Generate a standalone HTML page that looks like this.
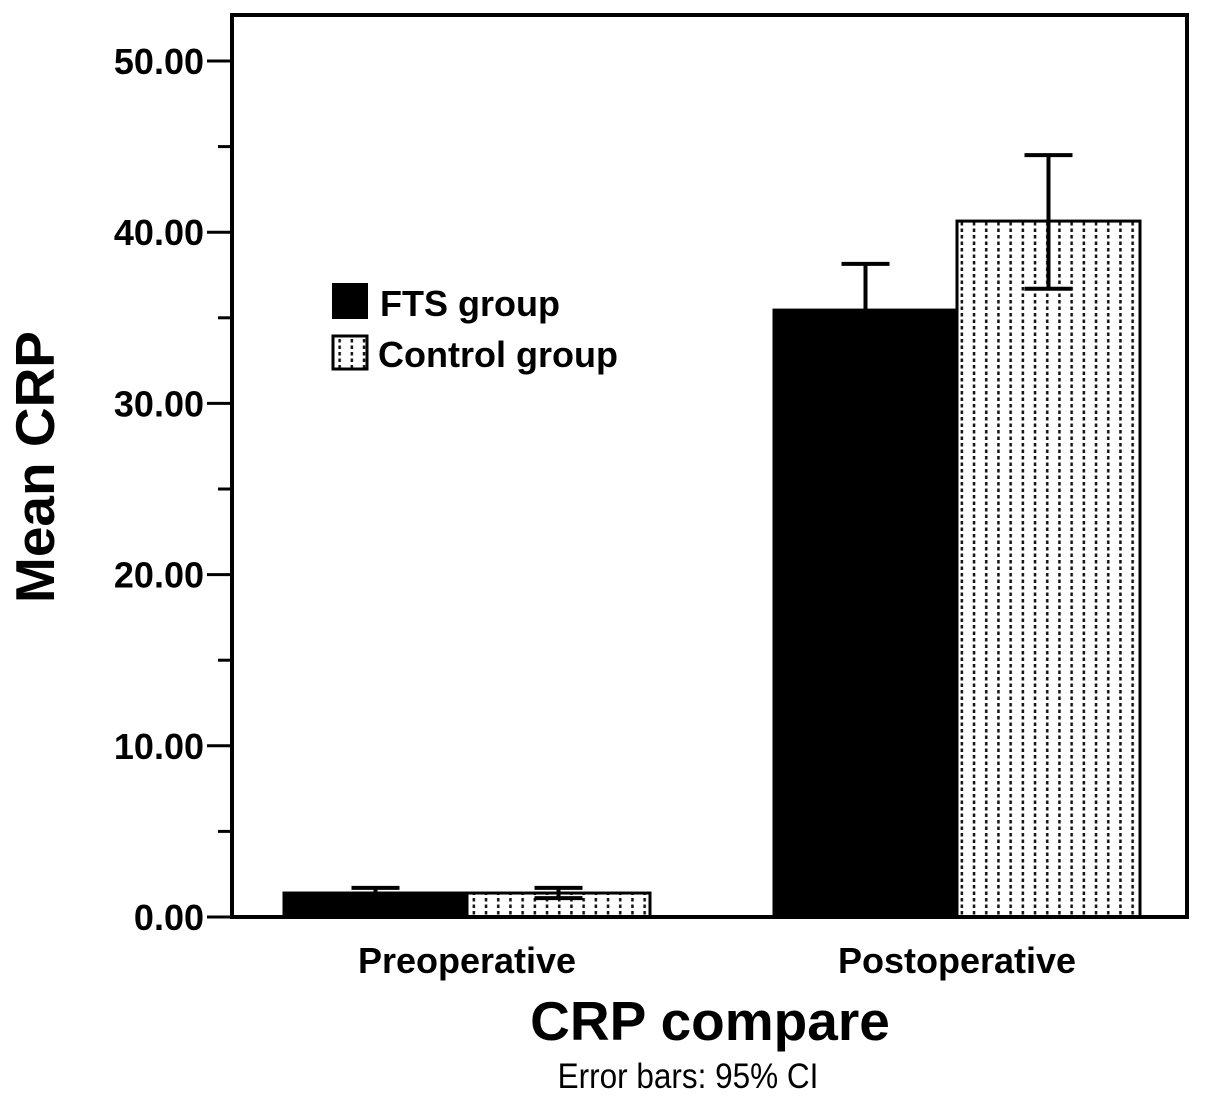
<!DOCTYPE html>
<html><head><meta charset="utf-8"><style>
body{margin:0;background:#fff;}
svg{display:block;font-family:"Liberation Sans",Arial,sans-serif;}
</style></head><body>
<svg id="chart" width="1205" height="1101" viewBox="0 0 1205 1101">
<defs>
<pattern id="dots" width="12.2" height="6.5" patternUnits="userSpaceOnUse" x="4" y="0">
<rect x="0" y="0" width="12.2" height="6.5" fill="#fff"/>
<rect x="5" y="1" width="2.5" height="3.5" fill="#111"/>
</pattern>
</defs>
<g id="grid"></g>
<g id="bars"></g>
<g id="errs"></g>
<rect x="232" y="15" width="955" height="902" fill="none" stroke="#000" stroke-width="4"/>
<g id="yaxis"></g>
<text x="467" y="973" font-size="36" font-weight="bold" text-anchor="middle">Preoperative</text>
<text x="957" y="973" font-size="36" font-weight="bold" text-anchor="middle">Postoperative</text>
<text x="710" y="1040" font-size="55" font-weight="bold" text-anchor="middle">CRP compare</text>
<text x="688" y="1088" font-size="35" text-anchor="middle" transform="translate(688 0) scale(0.9 1) translate(-688 0)">Error bars: 95% CI</text>
<text transform="translate(54 467) rotate(-90)" font-size="55" font-weight="bold" text-anchor="middle">Mean CRP</text>
<g>
<rect x="332" y="283" width="36" height="36" fill="#000"/>
<text x="380" y="316" font-size="36" font-weight="bold">FTS group</text>
<rect x="333" y="336" width="34" height="33" fill="url(#dots)" stroke="#000" stroke-width="3"/>
<text x="378" y="367" font-size="36" font-weight="bold">Control group</text>
</g>
</svg>
<script>
const categories=["Preoperative","Postoperative"];
const ftsMeans=[1.4,35.45];
const ftsLow=[1.1,32.5];
const ftsHigh=[1.7,38.15];
const ctlMeans=[1.4,40.65];
const ctlLow=[1.1,36.7];
const ctlHigh=[1.7,44.5];
const yTicks=[0,10,20,30,40,50];
const yTickLabels=["0.00","10.00","20.00","30.00","40.00","50.00"];
const NS="http://www.w3.org/2000/svg";
const y=v=>917-v*17.12;
const groupCenter=i=>467+i*490;
const barW=183;
function mk(tag,attrs,parent){const e=document.createElementNS(NS,tag);for(const k in attrs)e.setAttribute(k,attrs[k]);document.getElementById(parent).appendChild(e);return e;}
yTicks.forEach((t,i)=>{
 const l=mk('line',{x1:207,x2:232,y1:y(t),y2:y(t),stroke:'#000','stroke-width':3},'yaxis');
 
 
 const tx=mk('text',{x:204,y:y(t)+13,'font-size':36,'font-weight':'bold','text-anchor':'end'},'yaxis');
 tx.textContent=yTickLabels[i];
 
 
 if(i<yTicks.length-1){
  const m=mk('line',{x1:218,x2:232,y1:y(t+5),y2:y(t+5),stroke:'#000','stroke-width':3},'yaxis');
  
  
 }
});
categories.forEach((c,i)=>{
 const cx=groupCenter(i);
 const b1=mk('rect',{x:cx-barW,y:y(ftsMeans[i]),width:barW,height:917-y(ftsMeans[i]),fill:'#000',stroke:'#000','stroke-width':3},'bars');
 
 
 const b2=mk('rect',{x:cx,y:y(ctlMeans[i]),width:barW,height:917-y(ctlMeans[i]),fill:'url(#dots)',stroke:'#000','stroke-width':3},'bars');
 
 
 [[cx-barW/2,ftsLow[i],ftsHigh[i],'fts'],[cx+barW/2,ctlLow[i],ctlHigh[i],'control']].forEach(([ex,lo,hi,n])=>{
  const g=mk('g',{stroke:'#000','stroke-width':4},'errs');
  
  
  const a=document.createElementNS(NS,'line');a.setAttribute('x1',ex);a.setAttribute('x2',ex);a.setAttribute('y1',y(hi));a.setAttribute('y2',y(lo));g.appendChild(a);
  [hi,lo].forEach(v=>{const h=document.createElementNS(NS,'line');h.setAttribute('x1',ex-24);h.setAttribute('x2',ex+24);h.setAttribute('y1',y(v));h.setAttribute('y2',y(v));g.appendChild(h);});
 });
});
</script>
</body></html>
